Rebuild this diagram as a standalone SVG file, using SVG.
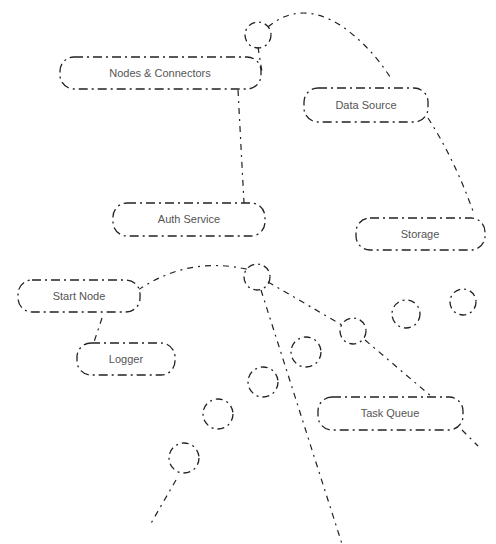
<svg xmlns="http://www.w3.org/2000/svg" width="496" height="544" viewBox="0 0 496 544">
<style>
.n{fill:#fff;stroke:#222;stroke-width:1.3;stroke-dasharray:9 4 2 4}
.c{fill:none;stroke:#222;stroke-width:1.3;stroke-dasharray:7 4 2 4}
.e{fill:none;stroke:#222;stroke-width:1.2;stroke-dasharray:6 5 2 5}
.t{font-family:"Liberation Sans",Arial,sans-serif;font-size:11px;fill:#555;text-anchor:middle;dominant-baseline:central}
</style>
<rect width="496" height="544" fill="#fff"/>
<g id="connectors">
<path class="e" d="M268,27 Q300,0 340,25 Q370,45 392,80"/>
<path class="e" d="M428,118 Q455,160 474,214"/>
<path class="e" d="M258,47 L262,72"/>
<path class="e" d="M238,90 L244,203"/>
<path class="e" d="M138,290 Q190,255 250,270"/>
<path class="e" d="M268,282 L342,325"/>
<path class="e" d="M365,340 L432,397"/>
<path class="e" d="M261,290 L342,544"/>
<path class="e" d="M102,318 L94,342"/>
<path class="e" d="M462,430 L478,446"/>
<path class="e" d="M176,480 L150,525"/>
</g>
<g id="node-connectors"><rect class="n" x="60" y="57" width="201" height="32" rx="14"/><text class="t" x="160" y="73">Nodes &amp; Connectors</text></g>
<g id="node-data"><rect class="n" x="304" y="88" width="124" height="34" rx="14"/><text class="t" x="366" y="105">Data Source</text></g>
<g id="node-service"><rect class="n" x="113" y="203" width="152" height="33" rx="14"/><text class="t" x="189" y="219">Auth Service</text></g>
<g id="node-storage"><rect class="n" x="356" y="218" width="129" height="32" rx="14"/><text class="t" x="420" y="234">Storage</text></g>
<g id="node-start"><rect class="n" x="18" y="280" width="122" height="32" rx="14"/><text class="t" x="79" y="296">Start Node</text></g>
<g id="node-logger"><rect class="n" x="77" y="343" width="98" height="32" rx="14"/><text class="t" x="126" y="359">Logger</text></g>
<g id="node-queue"><rect class="n" x="318" y="397" width="145" height="33" rx="14"/><text class="t" x="390" y="413">Task Queue</text></g>
<g id="circles">
<circle class="c" cx="258" cy="35" r="13"/>
<circle class="c" cx="257" cy="277" r="13"/>
<circle class="c" cx="353" cy="331" r="13"/>
<circle class="c" cx="306" cy="352" r="15"/>
<circle class="c" cx="406" cy="314" r="14"/>
<circle class="c" cx="463" cy="302" r="13"/>
<circle class="c" cx="263" cy="382" r="15"/>
<circle class="c" cx="218" cy="414" r="15"/>
<circle class="c" cx="184" cy="458" r="15"/>
</g>
</svg>
